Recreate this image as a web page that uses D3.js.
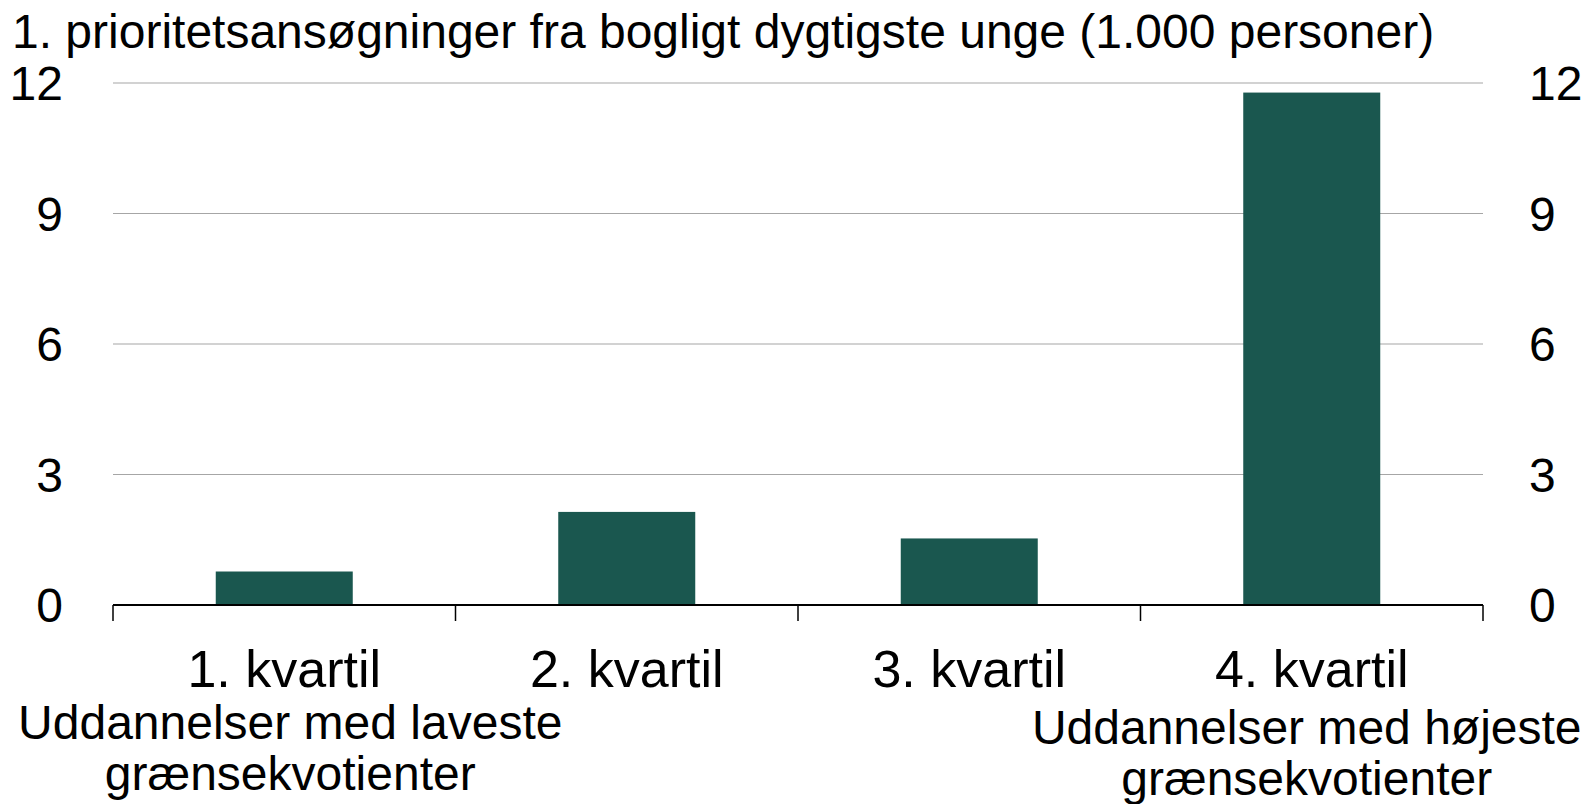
<!DOCTYPE html>
<html>
<head>
<meta charset="utf-8">
<script src="https://cdn.jsdelivr.net/npm/d3@7"></script>
<style>
  body { margin: 0; background: #fff; }
  svg { display: block; font-family: "Liberation Sans", Arial, sans-serif; }
</style>
</head>
<body>
<div id="chart"></div>
<script>
// data
const categories = ["1. kvartil", "2. kvartil", "3. kvartil", "4. kvartil"]
const values = [0.77, 2.14, 1.53, 11.78]
const yTicks = [0, 3, 6, 9, 12]
const title = "1. prioritetsansøgninger fra bogligt dygtigste unge (1.000 personer)"
const leftNote = ["Uddannelser med laveste", "grænsekvotienter"]
const rightNote = ["Uddannelser med højeste", "grænsekvotienter"]

const width = 1586, height = 804
const margin = { top: 83, right: 103, bottom: 199, left: 113 }

const svg = d3.select("#chart")
    .append("svg")
    .attr("width", width)
    .attr("height", height)

const x = d3.scaleBand()
    .domain(categories)
    .range([margin.left, width - margin.right])
    .paddingInner(0.6)
    .paddingOuter(0.3)

const y = d3.scaleLinear()
    .domain([0, 12])
    .range([height - margin.bottom, margin.top])

// gridlines
svg.append("g")
    .selectAll("line")
    .data(yTicks.filter(d => d > 0))
    .join("line")
    .attr("x1", margin.left)
    .attr("x2", width - margin.right)
    .attr("y1", d => y(d))
    .attr("y2", d => y(d))
    .attr("stroke", "#a6a6a6")
    .attr("stroke-width", 1.2)

// y labels both sides
svg.append("g")
    .selectAll("text")
    .data(yTicks)
    .join("text")
    .attr("x", 63)
    .attr("y", d => y(d))
    .attr("dy", "0.36em")
    .attr("text-anchor", "end")
    .attr("font-size", 48)
    .text(d => d)

svg.append("g")
    .selectAll("text")
    .data(yTicks)
    .join("text")
    .attr("x", 1529)
    .attr("y", d => y(d))
    .attr("dy", "0.36em")
    .attr("text-anchor", "start")
    .attr("font-size", 48)
    .text(d => d)

// bars
svg.append("g")
    .selectAll("rect")
    .data(values)
    .join("rect")
    .attr("x", (d, i) => x(categories[i]))
    .attr("width", x.bandwidth())
    .attr("y", d => y(d))
    .attr("height", d => y(0) - y(d))
    .attr("fill", "#1a574f")

// x axis with ticks between categories
const step = x.step()
const bounds = d3.range(categories.length + 1).map(i => margin.left + i * step)
const axis = svg.append("g")
axis.append("line")
    .attr("x1", margin.left)
    .attr("x2", width - margin.right)
    .attr("y1", y(0))
    .attr("y2", y(0))
    .attr("stroke", "#000")
    .attr("stroke-width", 2)
axis.selectAll(".tick")
    .data(bounds)
    .join("line")
    .attr("x1", d => d)
    .attr("x2", d => d)
    .attr("y1", y(0))
    .attr("y2", y(0) + 16)
    .attr("stroke", "#000")
    .attr("stroke-width", 1.5)

// category labels
svg.append("g")
    .selectAll("text")
    .data(categories)
    .join("text")
    .attr("x", d => x(d) + x.bandwidth() / 2)
    .attr("y", 687)
    .attr("text-anchor", "middle")
    .attr("font-size", 52)
    .text(d => d)

// notes under first and last quartile
function note(lines, cx, y0) {
    svg.append("g")
        .selectAll("text")
        .data(lines)
        .join("text")
        .attr("x", cx)
        .attr("y", (d, i) => y0 + i * 51)
        .attr("text-anchor", "middle")
        .attr("font-size", 48)
        .text(d => d)
}
note(leftNote, x(categories[0]) + x.bandwidth() / 2 + 6, 739)
note(rightNote, x(categories[3]) + x.bandwidth() / 2 - 5, 744)

// title
svg.append("text")
    .attr("x", 12)
    .attr("y", 48)
    .attr("font-size", 48)
    .text(title)
</script>
</body>
</html>
